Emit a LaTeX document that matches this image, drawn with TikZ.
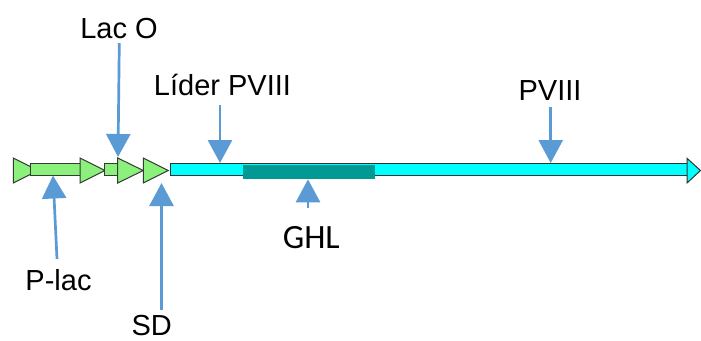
\documentclass[tikz,border=0pt]{standalone}
\usepackage{fontspec}
\setmainfont{Liberation Sans}
\newfontfamily\calib{Carlito}
\usetikzlibrary{arrows.meta}
\definecolor{gfill}{RGB}{140,240,124}
\definecolor{gline}{RGB}{50,60,50}
\definecolor{cyanbar}{RGB}{0,255,255}
\definecolor{tealbar}{RGB}{0,153,148}
\definecolor{bluearrow}{RGB}{91,155,213}
\definecolor{outl}{RGB}{50,50,50}
\tikzset{
  greenpart/.style={fill=gfill,draw=gline,line width=1pt,line join=miter},
  cyanpart/.style={fill=cyanbar,draw=outl,line width=1pt},
  barrow/.style={draw=bluearrow,line width=2.7pt,-{Triangle[width=24pt,length=23pt]}},
  lbl/.style={anchor=base,inner sep=0pt,font=\fontsize{29}{34}\selectfont},
  lblc/.style={anchor=base,inner sep=0pt,font=\calib\fontsize{34}{40}\selectfont},
}
\begin{document}
\begin{tikzpicture}[x=1pt,y=-1pt]
\useasboundingbox[fill=white] (0,0) rectangle (701,340);
% green promoter parts
\draw[greenpart] (13.3,158) -- (38.3,170.5) -- (13.3,183) -- cycle;
\draw[greenpart] (30,163.5) rectangle (80,175.5);
\draw[greenpart] (80,158) -- (105,170.5) -- (80,183) -- cycle;
\draw[greenpart] (104,163.5) rectangle (117.7,175.5);
\draw[greenpart] (117.7,158) -- (143.3,170.5) -- (117.7,183) -- cycle;
\draw[greenpart] (143.3,158) -- (168.3,170.5) -- (143.3,183) -- cycle;
% cyan gene
\draw[cyanpart] (170,163.5) rectangle (687,175.5);
\draw[cyanpart] (687,158.3) -- (700.5,170.5) -- (687,183) -- cycle;
\fill[tealbar] (242.7,165) rectangle (375,179.3);
% labels
\node[lbl] (laco) at (119,38) {Lac O};
\node[lbl] (lider) at (222.5,95) {Líder PVIII};
\node[lbl] (pviii) at (550,100) {PVIII};
\node[lbl] (plac) at (58.5,290) {P-lac};
\node[lbl] (sd) at (151.7,335) {SD};
\node[lblc] (ghl) at (311.3,248.3) {GHL};
% arrow coordinates
\coordinate (laco-s) at (119.3,43);
\coordinate (laco-t) at (118,157);
\coordinate (lider-s) at (220,105);
\coordinate (lider-t) at (220,163);
\coordinate (pviii-s) at (550.7,107);
\coordinate (pviii-t) at (550.7,163);
\coordinate (plac-s) at (57,259);
\coordinate (plac-t) at (53,175.5);
\coordinate (sd-s) at (161.5,310);
\coordinate (sd-t) at (161.5,183);
\coordinate (ghl-s) at (308,208);
\coordinate (ghl-t) at (308,179.3);
\draw[barrow] (laco-s) -- (laco-t);
\draw[barrow] (lider-s) -- (lider-t);
\draw[barrow] (pviii-s) -- (pviii-t);
\draw[barrow] (plac-s) -- (plac-t);
\draw[barrow] (sd-s) -- (sd-t);
\draw[barrow] (ghl-s) -- (ghl-t);
\end{tikzpicture}
\end{document}
